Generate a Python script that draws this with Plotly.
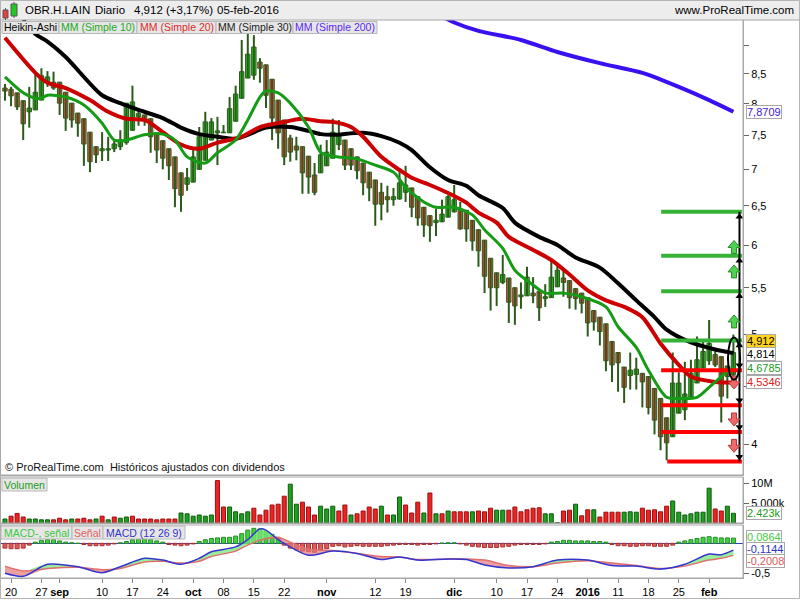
import numpy as np
import plotly.graph_objects as go
from plotly.subplots import make_subplots

# ---------------- data ----------------
# Heikin-Ashi candles, one per trading day starting 19-aug-2015 (index 0) to 05-feb-2016 (index 120)
ha_open = [8.26, 8.24, 8.18, 8.05, 7.87, 7.90, 8.06, 8.36, 8.36, 8.36,
           8.19, 8.01, 7.85, 7.76, 7.55, 7.33, 7.27, 7.28, 7.30, 7.33,
           7.39, 7.58, 7.79, 7.82, 7.76, 7.54, 7.42, 7.30, 7.18, 6.95,
           6.79, 6.82, 7.00, 7.13, 7.43, 7.54, 7.54, 7.54, 7.72, 8.09,
           8.43, 8.48, 8.71, 8.66, 8.41, 8.06, 7.74, 7.46, 7.34, 7.33,
           7.19, 6.92, 6.95, 7.05, 7.16, 7.36, 7.43, 7.30, 7.18, 7.09,
           6.96, 6.85, 6.68, 6.62, 6.58, 6.59, 6.68, 6.74, 6.62, 6.48,
           6.37, 6.28, 6.29, 6.35, 6.42, 6.46, 6.44, 6.31, 6.19, 6.06,
           5.84, 5.67, 5.56, 5.61, 5.50, 5.40, 5.41, 5.44, 5.46, 5.38,
           5.39, 5.51, 5.61, 5.58, 5.49, 5.44, 5.39, 5.25, 5.18, 5.11,
           4.93, 4.82, 4.68, 4.60, 4.61, 4.62, 4.59, 4.48, 4.39, 4.22,
           4.06, 4.26, 4.29, 4.40, 4.53, 4.67, 4.74, 4.80, 4.78, 4.69,
           4.61]
ha_high = [8.33, 8.28, 8.18, 8.05, 8.28, 8.54, 8.60, 8.55, 8.54, 8.36,
           8.19, 8.01, 7.85, 7.76, 7.55, 7.33, 7.55, 7.48, 7.43, 7.58,
           8.01, 8.30, 7.93, 7.82, 7.76, 7.54, 7.42, 7.30, 7.18, 6.95,
           7.02, 7.28, 7.63, 7.87, 7.77, 7.79, 7.66, 8.11, 8.30, 9.11,
           9.24, 9.20, 8.78, 8.66, 8.41, 8.06, 7.74, 7.51, 7.48, 7.33,
           7.19, 7.09, 7.36, 7.43, 7.76, 7.74, 7.43, 7.30, 7.18, 7.09,
           6.96, 6.85, 6.81, 6.77, 6.74, 6.96, 7.05, 6.74, 6.62, 6.48,
           6.37, 6.46, 6.58, 6.64, 6.78, 6.55, 6.44, 6.31, 6.19, 6.06,
           5.84, 5.67, 5.88, 5.61, 5.50, 5.56, 5.74, 5.62, 5.46, 5.54,
           5.82, 5.78, 5.69, 5.58, 5.49, 5.44, 5.39, 5.25, 5.18, 5.11,
           4.93, 4.82, 4.68, 4.82, 4.77, 4.62, 4.59, 4.48, 4.39, 4.22,
           4.82, 4.63, 4.73, 4.75, 4.98, 4.94, 5.15, 4.84, 4.78, 4.69,
           5.00]
ha_low = [8.05, 7.96, 7.90, 7.43, 7.62, 7.90, 8.06, 8.28, 8.23, 7.82,
          7.57, 7.62, 7.48, 7.05, 6.96, 7.09, 7.12, 7.12, 7.25, 7.28,
          7.36, 7.57, 7.65, 7.65, 7.24, 7.09, 7.00, 6.85, 6.48, 6.42,
          6.70, 6.82, 7.00, 7.13, 7.43, 7.06, 7.54, 7.54, 7.72, 8.09,
          8.43, 8.40, 8.35, 7.93, 7.43, 7.30, 7.06, 7.11, 7.13, 6.66,
          6.66, 6.64, 6.95, 7.05, 7.16, 7.28, 6.99, 6.99, 6.86, 6.64,
          6.56, 6.24, 6.31, 6.41, 6.50, 6.58, 6.55, 6.35, 6.24, 6.10,
          6.04, 6.11, 6.29, 6.35, 6.41, 6.19, 6.04, 5.93, 5.74, 5.44,
          5.25, 5.30, 5.54, 5.12, 5.10, 5.27, 5.41, 5.33, 5.14, 5.29,
          5.39, 5.51, 5.40, 5.27, 5.26, 5.22, 4.98, 5.04, 4.89, 4.64,
          4.54, 4.45, 4.35, 4.47, 4.47, 4.31, 4.25, 4.08, 3.95, 3.87,
          4.06, 4.26, 4.20, 4.40, 4.53, 4.67, 4.70, 4.68, 4.18, 4.39,
          4.58]
ha_close = [8.21, 8.13, 7.95, 7.68, 7.93, 8.19, 8.47, 8.45, 8.26, 8.01,
            7.77, 7.74, 7.69, 7.37, 7.11, 7.21, 7.30, 7.30, 7.37, 7.43,
            8.01, 8.03, 7.84, 7.74, 7.48, 7.28, 7.16, 7.05, 6.73, 6.64,
            6.88, 7.18, 7.48, 7.71, 7.71, 7.57, 7.55, 7.92, 8.16, 8.54,
            8.85, 8.98, 8.60, 8.14, 7.77, 7.54, 7.18, 7.25, 7.28, 6.95,
            6.89, 6.68, 7.21, 7.25, 7.55, 7.49, 7.06, 7.06, 6.98, 6.81,
            6.74, 6.52, 6.52, 6.58, 6.62, 6.81, 6.78, 6.48, 6.34, 6.25,
            6.24, 6.31, 6.39, 6.62, 6.58, 6.20, 6.20, 6.05, 5.93, 5.63,
            5.50, 5.50, 5.65, 5.34, 5.30, 5.42, 5.62, 5.41, 5.28, 5.40,
            5.62, 5.70, 5.56, 5.39, 5.38, 5.33, 5.12, 5.13, 5.03, 4.74,
            4.70, 4.72, 4.49, 4.65, 4.66, 4.54, 4.31, 4.20, 4.06, 4.01,
            4.53, 4.53, 4.43, 4.62, 4.75, 4.83, 4.91, 4.70, 4.41, 4.59,
            4.82]

# Moving averages (bar index, value)
sma10_idx = [0, 3, 5, 6, 7, 10, 13, 16, 18, 20, 23, 26, 28, 30, 33, 35, 38, 40, 42, 43,
             45, 47, 50, 52, 54, 58, 61, 64, 66, 69, 71, 74, 77, 79, 82, 84, 87, 89, 92, 95,
             99, 101, 104, 106, 109, 111, 114, 116, 118, 120]
sma10_val = [8.45, 8.18, 8.09, 8.09, 8.14, 8.11, 7.98, 7.69, 7.43, 7.43, 7.51, 7.52, 7.43, 7.18,
             7.09, 7.24, 7.43, 7.74, 8.11, 8.21, 8.18, 8.01, 7.63, 7.25, 7.19, 7.15, 7.06, 6.96,
             6.75, 6.55, 6.48, 6.48, 6.38, 6.19, 5.96, 5.70, 5.53, 5.44, 5.44, 5.40, 5.29, 5.08,
             4.87, 4.65, 4.40, 4.39, 4.40, 4.49, 4.59, 4.6785]
sma20_idx = [0, 5, 7, 10, 14, 17, 20, 23, 26, 29, 32, 35, 39, 42, 45, 49, 52, 54, 57, 59,
             62, 65, 67, 70, 73, 76, 78, 81, 83, 87, 90, 93, 96, 99, 102, 105, 108, 111, 113,
             117, 120]
sma20_val = [9.15, 8.52, 8.35, 8.26, 8.06, 7.87, 7.76, 7.74, 7.55, 7.36, 7.30, 7.39, 7.48, 7.63,
             7.69, 7.76, 7.72, 7.71, 7.63, 7.48, 7.18, 6.99, 6.88, 6.78, 6.67, 6.54, 6.41, 6.28,
             6.10, 5.94, 5.82, 5.65, 5.47, 5.36, 5.29, 5.18, 4.91, 4.70, 4.59, 4.54, 4.5346]
sma30_idx = [3, 5, 7, 10, 16, 19, 22, 26, 29, 32, 35, 38, 40, 43, 47, 50, 52, 54, 59, 62,
             65, 67, 70, 73, 76, 78, 82, 84, 88, 91, 94, 98, 101, 104, 107, 109, 113, 117, 120]
sma30_val = [9.49, 9.22, 9.08, 8.80, 8.14, 8.01, 7.90, 7.77, 7.62, 7.52, 7.48, 7.45, 7.51, 7.62,
             7.63, 7.57, 7.52, 7.51, 7.54, 7.49, 7.39, 7.28, 7.03, 6.85, 6.77, 6.64, 6.47, 6.28,
             6.10, 6.00, 5.85, 5.73, 5.55, 5.36, 5.18, 5.05, 4.92, 4.85, 4.814]
sma200_idx = [72, 74, 78, 85, 91, 98, 105, 111, 116, 120]
sma200_val = [9.56, 9.44, 9.28, 9.11, 8.89, 8.69, 8.52, 8.28, 8.06, 7.8709]

# Volume (millions of shares) and bar colour (g = up, r = down)
vol_m = [1.0, 1.7, 2.4, 1.5, 1.0, 1.0, 0.8, 0.8, 0.8, 1.2,
         0.8, 1.0, 1.0, 1.2, 0.8, 1.0, 1.7, 0.8, 1.5, 1.2,
         1.5, 1.7, 1.0, 1.0, 1.0, 0.8, 1.0, 1.0, 1.0, 2.5,
         2.3, 1.7, 2.0, 1.7, 2.0, 10.6, 4.0, 4.0, 2.8, 2.3,
         2.8, 3.7, 2.0, 3.2, 4.5, 4.7, 6.7, 9.7, 4.7, 5.2,
         4.0, 2.0, 4.2, 3.5, 4.2, 3.0, 4.5, 2.0, 2.3, 3.0,
         4.0, 3.5, 4.2, 2.0, 2.0, 6.5, 4.5, 2.5, 5.2, 2.5,
         7.5, 2.3, 2.3, 3.0, 2.8, 2.8, 2.8, 2.8, 3.0, 2.8,
         3.7, 3.2, 3.2, 3.2, 4.0, 2.8, 3.3, 3.7, 3.8, 2.3,
         2.3, 0.1, 3.0, 3.2, 4.7, 1.8, 3.3, 3.3, 1.5, 2.7,
         2.7, 2.7, 2.7, 2.8, 2.7, 3.7, 3.2, 3.3, 2.8, 4.2,
         5.5, 2.7, 2.0, 2.3, 2.7, 2.7, 8.7, 3.5, 3.0, 4.2,
         2.423]
vol_dir = list("grrrggggrr" "rgrrrgrgrg" "grrrrrrrrg" "gggggrrggg"
               "grrrrrrggr" "rrgggrrgrr" "rrgrggrrrg" "rgrgrrrgrr"
               "rggrrrrrrg" "ggrrgrrgrr" "rrgggrrrrr" "gggggggrrg" "g")

# MACD (12 26 9)
macd_idx = [0, 3, 7, 12, 16, 19, 23, 26, 29, 32, 34, 38, 40, 42, 43, 45, 47, 50, 54, 58,
            62, 65, 68, 73, 76, 79, 83, 87, 91, 96, 100, 104, 108, 112, 116, 118, 120]
macd_line = [-0.50, -0.55, -0.35, -0.39, -0.49, -0.39, -0.25, -0.28, -0.35, -0.25, -0.14,
             -0.06, 0.06, 0.24, 0.22, 0.06, -0.06, -0.20, -0.13, -0.17, -0.27, -0.23, -0.28,
             -0.26, -0.27, -0.36, -0.41, -0.39, -0.28, -0.28, -0.37, -0.38, -0.43, -0.35,
             -0.18, -0.19, -0.1144]
macd_signal = [-0.38, -0.46, -0.42, -0.40, -0.44, -0.42, -0.31, -0.30, -0.33, -0.30, -0.22,
               -0.13, -0.03, 0.05, 0.08, 0.10, 0.02, -0.10, -0.12, -0.17, -0.22, -0.23, -0.27,
               -0.26, -0.26, -0.28, -0.37, -0.39, -0.33, -0.29, -0.33, -0.37, -0.42, -0.38,
               -0.28, -0.25, -0.2008]
macd_hist = [-0.08, -0.09, -0.09, -0.08, -0.03, 0.02, 0.05, 0.06, 0.06, 0.04,
             0.02, 0.01, 0.00, -0.02, -0.04, -0.04, -0.04, -0.03, -0.01, 0.01,
             0.03, 0.06, 0.07, 0.07, 0.06, 0.04, 0.02, -0.02, -0.03, -0.04,
             -0.03, -0.01, 0.03, 0.06, 0.08, 0.09, 0.10, 0.10, 0.12, 0.16,
             0.22, 0.25, 0.24, 0.20, 0.15, 0.08, -0.03, -0.08, -0.11, -0.13,
             -0.14, -0.15, -0.12, -0.09, -0.05, -0.04, -0.06, -0.05, -0.04, -0.05,
             -0.05, -0.05, -0.05, -0.04, -0.03, -0.02, -0.02, -0.02, -0.03, -0.02,
             -0.02, -0.01, 0.004, 0.01, 0.01, -0.01, -0.03, -0.05, -0.06, -0.07,
             -0.07, -0.07, -0.06, -0.05, -0.03, -0.02, -0.02, -0.02, -0.02, -0.01,
             0.02, 0.03, 0.05, 0.05, 0.04, 0.04, 0.04, 0.03, 0.03, 0.02,
             -0.02, -0.04, -0.04, -0.05, -0.05, -0.04, -0.04, -0.05, -0.05, -0.05,
             -0.03, 0.02, 0.04, 0.06, 0.08, 0.10, 0.11, 0.10, 0.09, 0.09,
             0.0864]

# x-axis ticks (bar index of each labelled day)
tick_idx = [1, 6, 9, 16, 21, 26, 31, 36, 41, 46, 53, 61, 66, 74, 81, 86, 91, 96, 101, 106, 111, 116]
tick_text = ["20", "27", "<b>sep</b>", "10", "17", "24", "<b>oct</b>", "08", "15", "22", "<b>nov</b>",
             "12", "19", "<b>dic</b>", "10", "17", "24", "<b>2016</b>", "11", "18", "25", "<b>feb</b>"]

# drawn support / resistance levels and target arrows
levels_up = [6.42, 5.87, 5.46, 4.94]
levels_down = [4.65, 4.33, 4.10, 3.86]
arrows_up = [5.97, 5.68, 5.13]
arrows_down = [4.54, 4.21, 3.99]

# ---------------- figure ----------------
FONT = "Liberation Sans, Arial, sans-serif"
WICK = "#2b5a1b"
n = len(ha_open)
idx = np.arange(n)
o = np.array(ha_open); h = np.array(ha_high); l = np.array(ha_low); c = np.array(ha_close)
up = c >= o

fig = make_subplots(rows=3, cols=1, shared_xaxes=True, vertical_spacing=0.01)

# wicks
wx, wy = [], []
for i in range(n):
    wx += [i, i, None]
    wy += [l[i], h[i], None]
fig.add_trace(go.Scatter(x=wx, y=wy, mode="lines", line=dict(color=WICK, width=2),
                         hoverinfo="skip", showlegend=False), row=1, col=1)
# bodies
for mask, fill in ((up, "#22c822"), (~up, "#f24848")):
    fig.add_trace(go.Bar(x=idx[mask], y=np.abs(c - o)[mask], base=np.minimum(o, c)[mask],
                         width=0.72, marker=dict(color=fill, line=dict(color=WICK, width=1)),
                         showlegend=False), row=1, col=1)

# moving averages
for xs, ys, col, w in ((sma200_idx, sma200_val, "#3a10f0", 4),
                       (sma30_idx, sma30_val, "#000000", 4),
                       (sma20_idx, sma20_val, "#cc0000", 4),
                       (sma10_idx, sma10_val, "#169b16", 3)):
    fig.add_trace(go.Scatter(x=xs, y=ys, mode="lines", line=dict(color=col, width=w, shape="spline",
                             smoothing=0.8), showlegend=False, hoverinfo="skip"), row=1, col=1)

# target arrowheads on the vertical line
fig.add_trace(go.Scatter(x=[121.0] * len(levels_up), y=[v * 0.99 for v in levels_up], mode="markers",
                         marker=dict(symbol="triangle-up", size=7, color="black"), showlegend=False,
                         hoverinfo="skip"), row=1, col=1)
fig.add_trace(go.Scatter(x=[121.0] * len(levels_down), y=[v * 1.01 for v in levels_down], mode="markers",
                         marker=dict(symbol="triangle-down", size=7, color="black"), showlegend=False,
                         hoverinfo="skip"), row=1, col=1)

# volume
vcol = ["#1f9e1f" if d == "g" else "#ee2222" for d in vol_dir]
vline = ["#0e5a0e" if d == "g" else "#9a1010" for d in vol_dir]
fig.add_trace(go.Bar(x=idx, y=vol_m, width=0.66, marker=dict(color=vcol, line=dict(color=vline, width=1)),
                     showlegend=False), row=2, col=1)

# MACD
hcol = ["#3fd43f" if v >= 0 else "#e05a5a" for v in macd_hist]
hline = ["#2a8a2a" if v >= 0 else "#a83232" for v in macd_hist]
fig.add_trace(go.Bar(x=idx, y=macd_hist, width=0.66, marker=dict(color=hcol, line=dict(color=hline, width=1)),
                     showlegend=False), row=3, col=1)
mline = np.array(macd_line); msig = np.array(macd_signal)
sp = dict(shape="spline", smoothing=0.8)
fig.add_trace(go.Scatter(x=macd_idx, y=msig, mode="lines", line=dict(width=0, **sp), showlegend=False,
                         hoverinfo="skip"), row=3, col=1)
fig.add_trace(go.Scatter(x=macd_idx, y=np.maximum(mline, msig), mode="lines", line=dict(width=0, **sp),
                         fill="tonexty", fillcolor="rgba(120,230,120,0.75)", showlegend=False,
                         hoverinfo="skip"), row=3, col=1)
fig.add_trace(go.Scatter(x=macd_idx, y=msig, mode="lines", line=dict(width=0, **sp), showlegend=False,
                         hoverinfo="skip"), row=3, col=1)
fig.add_trace(go.Scatter(x=macd_idx, y=np.minimum(mline, msig), mode="lines", line=dict(width=0, **sp),
                         fill="tonexty", fillcolor="rgba(230,120,120,0.7)", showlegend=False,
                         hoverinfo="skip"), row=3, col=1)
fig.add_trace(go.Scatter(x=macd_idx, y=msig, mode="lines", line=dict(color="#e07070", width=1.5, **sp),
                         showlegend=False, hoverinfo="skip"), row=3, col=1)
fig.add_trace(go.Scatter(x=macd_idx, y=mline, mode="lines", line=dict(color="#3535d0", width=1.5, **sp),
                         showlegend=False, hoverinfo="skip"), row=3, col=1)

# ---------------- layout helpers (pixel -> paper) ----------------
def P(x):
    return x / 743.0


def Q(y):
    return (578.0 - y) / 558.0


shapes = []
ann = []
# outer frame and header band
shapes.append(dict(type="rect", xref="paper", yref="paper", x0=P(0), x1=P(800), y0=Q(20), y1=Q(0),
                   fillcolor="#ededed", line=dict(width=0), layer="below"))
shapes.append(dict(type="rect", xref="paper", yref="paper", x0=P(0.5), x1=P(799.5), y0=Q(598.5), y1=Q(0.5),
                   line=dict(color="#b4b4b4", width=1)))
for y0, y1 in ((20, 475), (477, 523), (525, 578)):
    shapes.append(dict(type="rect", xref="paper", yref="paper", x0=P(0.5), x1=P(743), y0=Q(y1), y1=Q(y0),
                       line=dict(color="#a8a8a8", width=1)))
shapes.append(dict(type="line", xref="paper", yref="paper", x0=P(743), x1=P(800), y0=Q(20), y1=Q(20),
                   line=dict(color="#a8a8a8", width=1)))

# header icon (two little candles)
for x0, x1, y0, y1, col in ((3, 8, 10, 18, "#e84040"), (11, 17, 4, 16, "#22c822")):
    shapes.append(dict(type="line", xref="paper", yref="paper", x0=P((x0 + x1) / 2), x1=P((x0 + x1) / 2),
                       y0=Q(y1 + 2), y1=Q(y0 - 2), line=dict(color="#555", width=1)))
    shapes.append(dict(type="rect", xref="paper", yref="paper", x0=P(x0), x1=P(x1), y0=Q(y1), y1=Q(y0),
                       fillcolor=col, line=dict(color="#555", width=1)))

# horizontal level lines
for v in levels_up:
    shapes.append(dict(type="line", xref="x", yref="y", x0=108.1, x1=121.4, y0=v, y1=v,
                       line=dict(color="#36b236", width=4)))
for k, v in enumerate(levels_down):
    shapes.append(dict(type="line", xref="x", yref="y", x0=108.1 if k < 3 else 109.1, x1=121.4, y0=v, y1=v,
                       line=dict(color="#ff0000", width=4)))
shapes.append(dict(type="line", xref="x", yref="y", x0=121.0, x1=121.0, y0=levels_down[-1],
                   y1=levels_up[0], line=dict(color="black", width=2)))
# block arrows
UP = "M -2.5,-6 L 2.5,-6 L 2.5,0 L 6,0 L 0,7 L -6,0 L -2.5,0 Z"
DN = "M -2.5,6 L 2.5,6 L 2.5,0 L 6,0 L 0,-7 L -6,0 L -2.5,0 Z"
for v in arrows_up:
    shapes.append(dict(type="path", xref="x", yref="y", xsizemode="pixel", ysizemode="pixel",
                       xanchor=120.1, yanchor=v, path=UP, fillcolor="#4fd24f",
                       line=dict(color="#2c8c2c", width=1)))
for v in arrows_down:
    shapes.append(dict(type="path", xref="x", yref="y", xsizemode="pixel", ysizemode="pixel",
                       xanchor=120.1, yanchor=v, path=DN, fillcolor="#ee6a6a",
                       line=dict(color="#b03a3a", width=1)))
# ellipse around the last candle
shapes.append(dict(type="circle", xref="x", yref="y", x0=119.1, x1=121.1, y0=4.56, y1=4.97,
                   line=dict(color="black", width=2)))

# header texts
for txt, x in (("OBR.H.LAIN", 23), ("Diario", 93), ("4,912 (+3,17%)", 132), ("05-feb-2016", 215)):
    ann.append(dict(text=txt, x=P(x), y=Q(10), xref="paper", yref="paper", xanchor="left", yanchor="middle",
                    showarrow=False, font=dict(family=FONT, size=11.5, color="#000")))
ann.append(dict(text="www.ProRealTime.com", x=P(796), y=Q(10), xref="paper", yref="paper", xanchor="right",
                yanchor="middle", showarrow=False, font=dict(family=FONT, size=11.5, color="#000")))

# label boxes inside panels
boxes = [("Heikin-Ashi", 2, 59, 21.5, 33.5, "#000000"),
         ("MM (Simple 10)", 59, 137, 21.5, 33.5, "#22a822"),
         ("MM (Simple 20)", 137, 216, 21.5, 33.5, "#e02828"),
         ("MM (Simple 30)", 216, 293, 21.5, 33.5, "#222222"),
         ("MM (Simple 200)", 293, 377, 21.5, 33.5, "#5a28f0"),
         ("Volumen", 2, 47, 478, 491, "#1a9a1a"),
         ("MACD-, señal", 1, 72, 526, 539, "#3cc83c"),
         ("Señal", 72, 103, 526, 539, "#e06060"),
         ("MACD (12 26 9)", 103, 185, 526, 539, "#3434c8")]
for txt, x0, x1, y0, y1, col in boxes:
    shapes.append(dict(type="rect", xref="paper", yref="paper", x0=P(x0), x1=P(x1), y0=Q(y1), y1=Q(y0),
                       fillcolor="#e6e6e6", line=dict(color="#b8b8b8", width=1)))
    ann.append(dict(text=txt, x=P((x0 + x1) / 2), y=Q((y0 + y1) / 2), xref="paper", yref="paper",
                    xanchor="center", yanchor="middle", showarrow=False,
                    font=dict(family=FONT, size=10.5, color=col)))

ann.append(dict(text="© ProRealTime.com  Históricos ajustados con dividendos", x=P(3), y=Q(467),
                xref="paper", yref="paper", xanchor="left", yanchor="middle", showarrow=False,
                font=dict(family=FONT, size=11, color="#111")))

# value boxes on the right axis
vals = [("7,8709", 112, "#3a20e0", "white"),
        ("4,912", 340.5, "#000000", "#ffd21e"),
        ("4,814", 353.5, "#000000", "white"),
        ("4,6785", 367.5, "#1a9a1a", "white"),
        ("4,5346", 382.5, "#e02020", "white"),
        ("2.423k", 513, "#1a9a1a", "white"),
        ("0,0864", 537, "#40cc40", "white"),
        ("-0,1144", 549, "#2a35cc", "white"),
        ("-0,2008", 561, "#e05a5a", "white")]
for txt, y, col, bg in vals:
    ann.append(dict(text=txt, x=P(746), y=Q(y), xref="paper", yref="paper", xanchor="left", yanchor="middle",
                    showarrow=False, bgcolor=bg, bordercolor="#a8a8a8", borderwidth=1, borderpad=0,
                    font=dict(family=FONT, size=11, color=col)))

main_ticks = [4, 4.5, 5, 5.5, 6, 6.5, 7, 7.5, 8, 8.5, 9]
main_text = ["4", "", "5", "5,5", "6", "6,5", "7", "7,5", "8", "8,5", ""]

axis_common = dict(showgrid=False, zeroline=False, showline=True, linecolor="#a8a8a8", automargin=False,
                   tickfont=dict(family=FONT, size=11, color="#000"))
fig.update_layout(
    width=800, height=600, margin=dict(l=0, r=57, t=20, b=22),
    paper_bgcolor="white", plot_bgcolor="white", showlegend=False, bargap=0,
    barmode="overlay",
    font=dict(family=FONT, size=11, color="#000"),
    shapes=shapes, annotations=ann,
    xaxis=dict(domain=[0, 1], range=[-0.82, 121.58], showticklabels=False, ticks="", **axis_common),
    xaxis2=dict(domain=[0, 1], range=[-0.82, 121.58], showticklabels=False, ticks="", **axis_common),
    xaxis3=dict(domain=[0, 1], range=[-0.82, 121.58], tickvals=tick_idx, ticktext=tick_text, ticks="outside",
                ticklen=4, tickcolor="#888", **axis_common),
    yaxis=dict(domain=[Q(475), Q(20)], type="log", range=[np.log10(3.756), np.log10(9.488)], side="right",
               tickvals=main_ticks, ticktext=main_text, ticks="outside", ticklen=5, tickcolor="#666",
               **axis_common),
    yaxis2=dict(domain=[Q(523), Q(477)], range=[0, 11.5], side="right", tickvals=[5, 10],
                ticktext=["5.000k", "10M"], ticks="outside", ticklen=5, tickcolor="#666", **axis_common),
    yaxis3=dict(domain=[Q(578), Q(525)], range=[-0.578, 0.305], side="right", tickvals=[-0.5],
                ticktext=["-0,5"], ticks="outside", ticklen=5, tickcolor="#666", **axis_common),
)
fig.update_yaxes(zeroline=True, zerolinecolor="#2e3ec0", zerolinewidth=1.5, row=3, col=1)

fig.write_html("out.html", config={"displayModeBar": False, "staticPlot": True},
               post_script="document.body.style.margin='0px';")
